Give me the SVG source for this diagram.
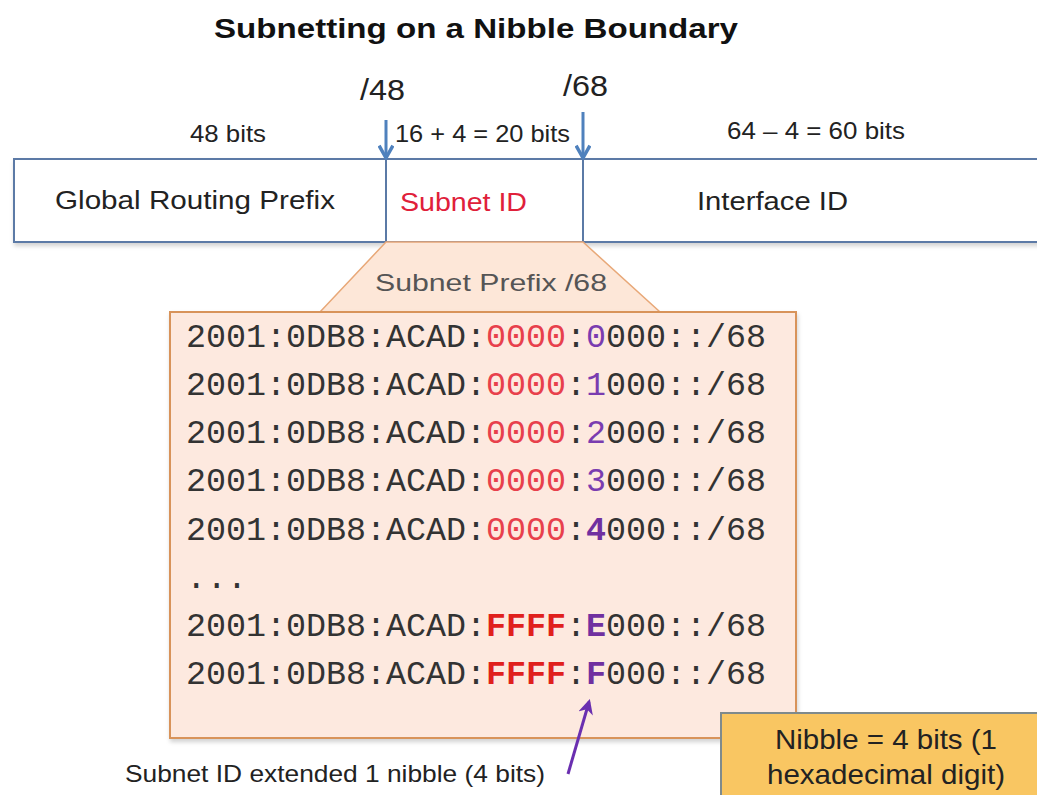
<svg xmlns="http://www.w3.org/2000/svg" width="1037" height="795" viewBox="0 0 1037 795">
  <defs>
    <style>
      .sans { font-family: "Liberation Sans", Arial, sans-serif; }
      .mono { font-family: "Liberation Mono", "Courier New", monospace; font-size: 34px; fill: #333333; }
      .z { fill: #e8404c; }
      .f { fill: #e0201c; font-weight: bold; }
      .p { fill: #7a3cb0; }
      .pb { fill: #7030a0; font-weight: bold; }
      .lbl { font-size: 26px; fill: #222; }
      .bits { font-size: 24px; fill: #222; }
      .bar { fill: #ffffff; stroke: #5b7aa6; stroke-width: 2; }
      .arrow { stroke: #4f81bd; stroke-width: 3; fill: none; }
    </style>
    <marker id="blueHead" viewBox="0 0 12 12" refX="10" refY="6" markerWidth="5.5" markerHeight="5.5" orient="auto">
      <path d="M1,1 L10,6 L1,11" fill="none" stroke="#4f81bd" stroke-width="2.5" stroke-linejoin="round"/>
    </marker>
    <marker id="purpleHead" viewBox="0 0 10 10" refX="8" refY="5" markerWidth="5" markerHeight="5" orient="auto">
      <path d="M0,0 L10,5 L0,10 L3,5 z" fill="#6a2fb0"/>
    </marker>
    <filter id="soft" x="-5%" y="-5%" width="110%" height="120%">
      <feDropShadow dx="1" dy="3" stdDeviation="2" flood-color="#000" flood-opacity="0.18"/>
    </filter>
  </defs>

  <rect width="1037" height="795" fill="#ffffff"/>

  <!-- title -->
  <text class="sans" x="476" y="38" text-anchor="middle" font-size="28" font-weight="bold" fill="#111" textLength="524" lengthAdjust="spacingAndGlyphs">Subnetting on a Nibble Boundary</text>

  <!-- address bar -->
  <g id="address-bar">
    <rect class="bar" x="14" y="159" width="1030" height="83" filter="url(#soft)"/>
    <line x1="386" y1="159" x2="386" y2="242" stroke="#5b7aa6" stroke-width="2"/>
    <line x1="583" y1="159" x2="583" y2="242" stroke="#5b7aa6" stroke-width="2"/>
  </g>

  <g id="global-routing-prefix">
    <text class="sans lbl" x="55" y="209" textLength="280" lengthAdjust="spacingAndGlyphs">Global Routing Prefix</text>
    <text class="sans bits" x="190" y="142" textLength="76" lengthAdjust="spacingAndGlyphs">48 bits</text>
  </g>

  <g id="subnet-id">
    <text class="sans" x="400" y="211" font-size="26" fill="#e0203a" textLength="127" lengthAdjust="spacingAndGlyphs">Subnet ID</text>
    <text class="sans bits" x="395" y="142" textLength="175" lengthAdjust="spacingAndGlyphs">16 + 4 = 20 bits</text>
  </g>

  <g id="interface-id">
    <text class="sans lbl" x="697" y="210" textLength="151" lengthAdjust="spacingAndGlyphs">Interface ID</text>
    <text class="sans bits" x="727" y="139" textLength="178" lengthAdjust="spacingAndGlyphs">64 – 4 = 60 bits</text>
  </g>

  <!-- prefix boundary markers -->
  <g id="boundary-48">
    <text class="sans" x="360" y="100" font-size="29" fill="#222" textLength="45" lengthAdjust="spacingAndGlyphs">/48</text>
  </g>
  <g id="boundary-68">
    <text class="sans" x="563" y="96" font-size="29" fill="#222" textLength="45" lengthAdjust="spacingAndGlyphs">/68</text>
  </g>

  <!-- expanded subnet prefix list -->
  <g id="subnet-prefix">
    <path d="M386,242 L583,242 L660,312 L320,312 Z" fill="#fde7d8" stroke="#e8a878" stroke-width="1.5"/>
    <text class="sans" x="375" y="291" font-size="24" fill="#555" textLength="232" lengthAdjust="spacingAndGlyphs">Subnet Prefix  /68</text>
    <rect x="170" y="312" width="626" height="426" fill="#fde9df" stroke="#d8935a" stroke-width="2" filter="url(#soft)"/>
    <g class="mono">
      <text x="186" y="347" textLength="580" lengthAdjust="spacingAndGlyphs">2001:0DB8:ACAD:<tspan class="z">0000</tspan>:<tspan class="p">0</tspan>000::/68</text>
      <text x="186" y="395" textLength="580" lengthAdjust="spacingAndGlyphs">2001:0DB8:ACAD:<tspan class="z">0000</tspan>:<tspan class="p">1</tspan>000::/68</text>
      <text x="186" y="443" textLength="580" lengthAdjust="spacingAndGlyphs">2001:0DB8:ACAD:<tspan class="z">0000</tspan>:<tspan class="p">2</tspan>000::/68</text>
      <text x="186" y="491" textLength="580" lengthAdjust="spacingAndGlyphs">2001:0DB8:ACAD:<tspan class="z">0000</tspan>:<tspan class="p">3</tspan>000::/68</text>
      <text x="186" y="540" textLength="580" lengthAdjust="spacingAndGlyphs">2001:0DB8:ACAD:<tspan class="z">0000</tspan>:<tspan class="pb">4</tspan>000::/68</text>
      <text x="186" y="588">...</text>
      <text x="186" y="636" textLength="580" lengthAdjust="spacingAndGlyphs">2001:0DB8:ACAD:<tspan class="f">FFFF</tspan>:<tspan class="pb">E</tspan>000::/68</text>
      <text x="186" y="684" textLength="580" lengthAdjust="spacingAndGlyphs">2001:0DB8:ACAD:<tspan class="f">FFFF</tspan>:<tspan class="pb">F</tspan>000::/68</text>
    </g>
  </g>

  <g id="extension-note">
    <text class="sans" x="125" y="782" font-size="24" fill="#222" textLength="420" lengthAdjust="spacingAndGlyphs">Subnet ID extended 1 nibble (4 bits)</text>
  </g>

  <g id="nibble-note">
    <rect x="721" y="713" width="330" height="95" fill="#f9c662" stroke="#7f8a8c" stroke-width="2"/>
    <text class="sans" x="775" y="749" font-size="28" fill="#222" textLength="222" lengthAdjust="spacingAndGlyphs">Nibble = 4 bits (1</text>
    <text class="sans" x="767" y="784" font-size="28" fill="#222" textLength="238" lengthAdjust="spacingAndGlyphs">hexadecimal digit)</text>
  </g>

  <!-- connectors -->
  <g id="connectors">
    <line class="arrow" x1="386" y1="120" x2="386" y2="158" marker-end="url(#blueHead)"/>
    <line class="arrow" x1="583" y1="112" x2="583" y2="158" marker-end="url(#blueHead)"/>
    <line x1="568" y1="774" x2="589" y2="702" stroke="#6a2fb0" stroke-width="3" marker-end="url(#purpleHead)"/>
  </g>
</svg>
